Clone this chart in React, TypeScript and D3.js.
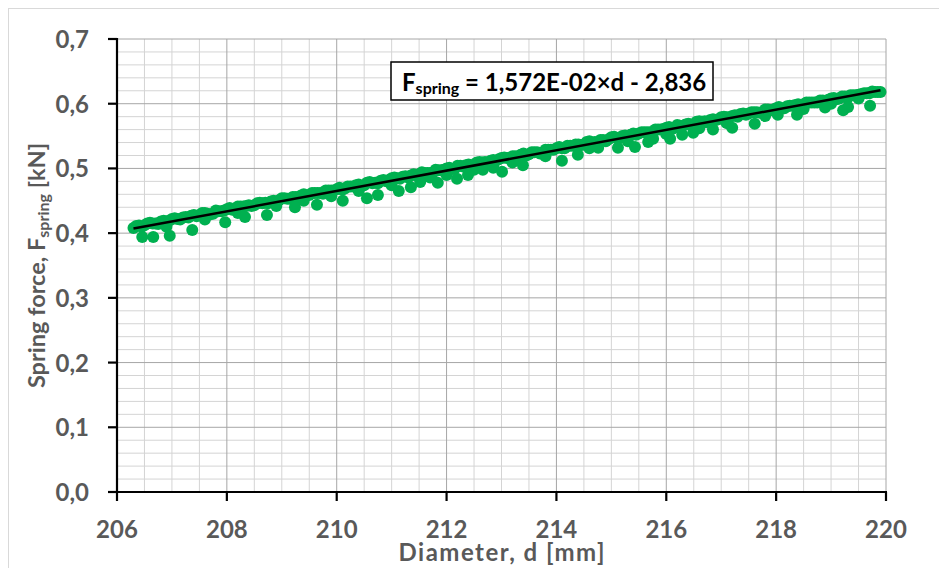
import React from "react";
import * as d3 from "d3";

// Measured data (dense band along the fit)
const bandDiameters = [
  206.3, 206.4, 206.5, 206.6, 206.7, 206.8, 206.9, 207.0, 207.1, 207.2,
  207.3, 207.4, 207.5, 207.6, 207.7, 207.8, 207.9, 208.0, 208.1, 208.2,
  208.3, 208.4, 208.5, 208.6, 208.7, 208.8, 208.9, 209.0, 209.1, 209.2,
  209.3, 209.4, 209.5, 209.6, 209.7, 209.8, 209.9, 210.0, 210.1, 210.2,
  210.3, 210.4, 210.5, 210.6, 210.7, 210.8, 210.9, 211.0, 211.1, 211.2,
  211.3, 211.4, 211.5, 211.6, 211.7, 211.8, 211.9, 212.0, 212.1, 212.2,
  212.3, 212.4, 212.5, 212.6, 212.7, 212.8, 212.9, 213.0, 213.1, 213.2,
  213.3, 213.4, 213.5, 213.6, 213.7, 213.8, 213.9, 214.0, 214.1, 214.2,
  214.3, 214.4, 214.5, 214.6, 214.7, 214.8, 214.9, 215.0, 215.1, 215.2,
  215.3, 215.4, 215.5, 215.6, 215.7, 215.8, 215.9, 216.0, 216.1, 216.2,
  216.3, 216.4, 216.5, 216.6, 216.7, 216.8, 216.9, 217.0, 217.1, 217.2,
  217.3, 217.4, 217.5, 217.6, 217.7, 217.8, 217.9, 218.0, 218.1, 218.2,
  218.3, 218.4, 218.5, 218.6, 218.7, 218.8, 218.9, 219.0, 219.1, 219.2,
  219.3, 219.4, 219.5, 219.6, 219.7, 219.8, 219.9,
];
const bandForces = [
  0.408, 0.412, 0.412, 0.416, 0.415, 0.418, 0.418, 0.422, 0.422, 0.424,
  0.424, 0.428, 0.428, 0.431, 0.429, 0.435, 0.434, 0.437, 0.436, 0.441,
  0.441, 0.443, 0.443, 0.447, 0.447, 0.449, 0.448, 0.454, 0.453, 0.456,
  0.455, 0.46, 0.459, 0.462, 0.462, 0.466, 0.466, 0.468, 0.467, 0.472,
  0.472, 0.475, 0.474, 0.479, 0.478, 0.481, 0.48, 0.485, 0.485, 0.487,
  0.486, 0.491, 0.491, 0.493, 0.493, 0.498, 0.497, 0.5, 0.499, 0.504,
  0.503, 0.506, 0.505, 0.51, 0.51, 0.512, 0.512, 0.516, 0.516, 0.519,
  0.518, 0.523, 0.522, 0.525, 0.523, 0.529, 0.529, 0.531, 0.531, 0.535,
  0.535, 0.537, 0.537, 0.542, 0.541, 0.544, 0.542, 0.548, 0.547, 0.55,
  0.55, 0.554, 0.554, 0.556, 0.556, 0.56, 0.56, 0.563, 0.561, 0.567,
  0.566, 0.569, 0.568, 0.573, 0.573, 0.575, 0.575, 0.579, 0.579, 0.581,
  0.58, 0.585, 0.585, 0.587, 0.586, 0.591, 0.59, 0.593, 0.593, 0.596,
  0.597, 0.599, 0.598, 0.602, 0.602, 0.605, 0.604, 0.608, 0.607, 0.611,
  0.609, 0.613, 0.614, 0.616, 0.616, 0.618, 0.618,
];

// Second pass of the dense band (readings in between)
const band2Diameters = [
  206.35, 206.45, 206.55, 206.65, 206.75, 206.85, 206.95, 207.05, 207.15, 207.25,
  207.35, 207.45, 207.55, 207.65, 207.75, 207.85, 207.95, 208.05, 208.15, 208.25,
  208.35, 208.45, 208.55, 208.65, 208.75, 208.85, 208.95, 209.05, 209.15, 209.25,
  209.35, 209.45, 209.55, 209.65, 209.75, 209.85, 209.95, 210.05, 210.15, 210.25,
  210.35, 210.45, 210.55, 210.65, 210.75, 210.85, 210.95, 211.05, 211.15, 211.25,
  211.35, 211.45, 211.55, 211.65, 211.75, 211.85, 211.95, 212.05, 212.15, 212.25,
  212.35, 212.45, 212.55, 212.65, 212.75, 212.85, 212.95, 213.05, 213.15, 213.25,
  213.35, 213.45, 213.55, 213.65, 213.75, 213.85, 213.95, 214.05, 214.15, 214.25,
  214.35, 214.45, 214.55, 214.65, 214.75, 214.85, 214.95, 215.05, 215.15, 215.25,
  215.35, 215.45, 215.55, 215.65, 215.75, 215.85, 215.95, 216.05, 216.15, 216.25,
  216.35, 216.45, 216.55, 216.65, 216.75, 216.85, 216.95, 217.05, 217.15, 217.25,
  217.35, 217.45, 217.55, 217.65, 217.75, 217.85, 217.95, 218.05, 218.15, 218.25,
  218.35, 218.45, 218.55, 218.65, 218.75, 218.85, 218.95, 219.05, 219.15, 219.25,
  219.35, 219.45, 219.55, 219.65, 219.75, 219.85,
];
const band2Forces = [
  0.411, 0.41, 0.415, 0.415, 0.414, 0.419, 0.419, 0.423, 0.421, 0.425,
  0.427, 0.426, 0.431, 0.43, 0.43, 0.434, 0.435, 0.439, 0.437, 0.441,
  0.442, 0.442, 0.446, 0.446, 0.446, 0.45, 0.451, 0.454, 0.453, 0.456,
  0.458, 0.458, 0.462, 0.462, 0.461, 0.466, 0.466, 0.47, 0.469, 0.472,
  0.474, 0.473, 0.478, 0.477, 0.477, 0.482, 0.482, 0.486, 0.484, 0.488,
  0.489, 0.489, 0.494, 0.493, 0.493, 0.497, 0.498, 0.501, 0.5, 0.504,
  0.505, 0.505, 0.509, 0.509, 0.508, 0.513, 0.514, 0.517, 0.516, 0.519,
  0.521, 0.52, 0.525, 0.525, 0.524, 0.529, 0.529, 0.533, 0.531, 0.535,
  0.537, 0.536, 0.541, 0.54, 0.54, 0.544, 0.545, 0.549, 0.547, 0.551,
  0.552, 0.552, 0.556, 0.556, 0.556, 0.56, 0.561, 0.564, 0.563, 0.566,
  0.568, 0.568, 0.572, 0.572, 0.571, 0.576, 0.576, 0.58, 0.579, 0.582,
  0.584, 0.583, 0.587, 0.587, 0.587, 0.591, 0.591, 0.595, 0.593, 0.597,
  0.598, 0.598, 0.602, 0.602, 0.602, 0.605, 0.606, 0.609, 0.608, 0.611,
  0.613, 0.613, 0.615, 0.616, 0.619, 0.618,
];

// Points slightly under the fit
const lowDiameters = [
  206.9, 207.6, 208.2, 208.9, 209.4, 209.9, 210.4, 211.0, 211.7, 212.0, 212.5,
  213.2, 213.8, 214.6, 215.3, 216.0, 216.6, 217.1, 217.8, 218.5, 219.0, 219.5,
];
const lowForces = [
  0.41, 0.421, 0.431, 0.442, 0.45, 0.457, 0.465, 0.474, 0.486, 0.49, 0.498,
  0.509, 0.519, 0.531, 0.542, 0.553, 0.562, 0.57, 0.581, 0.592, 0.6, 0.608,
];

// Outliers clearly below the fit
const outlierDiameters = [
  206.46, 206.66, 206.96, 207.37, 207.97, 208.33, 208.73, 209.24, 209.64, 210.11,
  210.55, 210.75, 211.13, 211.35, 211.52, 211.84, 212.19, 212.39, 212.66, 212.85,
  213.01, 213.39, 214.1, 214.39, 214.76, 215.12, 215.43, 215.67, 215.76, 216.07,
  216.29, 216.49, 216.85, 217.2, 217.61, 218.03, 218.38, 218.89, 219.22, 219.31,
  219.71,
];
const outlierForces = [
  0.394, 0.394, 0.396, 0.405, 0.417, 0.425, 0.428, 0.44, 0.444, 0.45,
  0.454, 0.459, 0.465, 0.471, 0.479, 0.478, 0.484, 0.49, 0.498, 0.501,
  0.495, 0.505, 0.512, 0.521, 0.532, 0.532, 0.533, 0.541, 0.546, 0.546,
  0.552, 0.555, 0.56, 0.563, 0.569, 0.583, 0.583, 0.594, 0.59, 0.595,
  0.597,
];

// Linear fit shown in the label
const fitSlope = 0.01572;
const fitIntercept = -2.836;
const fitRange = [206.3, 219.9];

const xTicks = [206, 208, 210, 212, 214, 216, 218, 220];
const yTicks = [0, 0.1, 0.2, 0.3, 0.4, 0.5, 0.6, 0.7];

const W = 939;
const H = 568;
const left = 117;
const right = 886;
const top = 39;
const bottom = 492;

const FONT = "Lato, 'Open Sans', sans-serif";
const GREY = "#595959";
const GREEN = "#00B050";

export default function App() {
  const x = d3.scaleLinear().domain([206, 220]).range([left, right]);
  const y = d3.scaleLinear().domain([0, 0.7]).range([bottom, top]);

  const minorX = d3.range(206, 220.001, 0.5).filter((v) => Math.abs(v % 2) > 1e-6);
  const minorY = d3.range(0, 0.7001, 0.02).filter((v) => Math.abs(Math.round(v * 50) % 5) !== 0);

  const fmt = (v: number) => d3.format(".1f")(v).replace(".", ",");

  const points: [number, number][] = [
    ...bandDiameters.map((d, i) => [d, bandForces[i]] as [number, number]),
    ...band2Diameters.map((d, i) => [d, band2Forces[i]] as [number, number]),
    ...lowDiameters.map((d, i) => [d, lowForces[i]] as [number, number]),
    ...outlierDiameters.map((d, i) => [d, outlierForces[i]] as [number, number]),
  ];

  const fitLine = d3
    .line<number>()
    .x((d) => x(d))
    .y((d) => y(fitSlope * d + fitIntercept));

  return (
    <svg
      width={W}
      height={H}
      style={{ position: "absolute", left: 0, top: 0, background: "#fff" }}
      fontFamily={FONT}
    >
      <rect x={8.5} y={8.5} width={W} height={H} fill="#fff" stroke="#d9d9d9" strokeWidth={1} />

      {/* minor grid */}
      {minorX.map((v) => (
        <line key={"mx" + v} x1={x(v)} x2={x(v)} y1={top} y2={bottom} stroke="#d4d4d4" strokeWidth={1} />
      ))}
      {minorY.map((v) => (
        <line key={"my" + v} x1={left} x2={right} y1={y(v)} y2={y(v)} stroke="#d4d4d4" strokeWidth={1} />
      ))}
      {/* major grid */}
      {xTicks.map((v) => (
        <line key={"Mx" + v} x1={x(v)} x2={x(v)} y1={top} y2={bottom} stroke="#a6a6a6" strokeWidth={1} />
      ))}
      {yTicks.map((v) => (
        <line key={"My" + v} x1={left} x2={right} y1={y(v)} y2={y(v)} stroke="#a6a6a6" strokeWidth={1} />
      ))}

      {/* points */}
      {points.map(([d, f], i) => (
        <circle key={"p" + i} cx={x(d)} cy={y(f)} r={6} fill={GREEN} />
      ))}

      {/* fit line */}
      <path d={fitLine(fitRange) || ""} fill="none" stroke="#000" strokeWidth={2.5} />

      {/* axes */}
      <line x1={left} x2={left} y1={top - 1} y2={bottom + 1} stroke="#000" strokeWidth={2.2} />
      <line x1={left - 1} x2={right + 1} y1={bottom} y2={bottom} stroke="#000" strokeWidth={2.2} />
      {yTicks.map((v) => (
        <line key={"yt" + v} x1={left - 9} x2={left} y1={y(v)} y2={y(v)} stroke="#000" strokeWidth={2.2} />
      ))}
      {xTicks.map((v) => (
        <line key={"xt" + v} x1={x(v)} x2={x(v)} y1={bottom} y2={bottom + 9} stroke="#000" strokeWidth={2.2} />
      ))}

      {/* tick labels */}
      {yTicks.map((v) => (
        <text key={"yl" + v} x={89} y={y(v) + 9} textAnchor="end" fontSize={24} fontWeight="bold" fill={GREY}>
          {fmt(v)}
        </text>
      ))}
      {xTicks.map((v) => (
        <text key={"xl" + v} x={x(v)} y={538} textAnchor="middle" fontSize={24} fontWeight="bold" fill={GREY}>
          {v}
        </text>
      ))}

      {/* axis titles */}
      <text
        x={(left + right) / 2}
        y={561}
        textAnchor="middle"
        fontSize={24}
        fontWeight="bold"
        fill={GREY}
        textLength={206}
        lengthAdjust="spacing"
      >
        Diameter, d [mm]
      </text>
      <text
        transform={`translate(45, ${(top + bottom) / 2}) rotate(-90)`}
        textAnchor="middle"
        fontSize={23.5}
        fontWeight="bold"
        fill={GREY}
      >
        Spring force, F
        <tspan fontSize={16} dy={4}>spring</tspan>
        <tspan dy={-4}> [kN]</tspan>
      </text>

      {/* equation box */}
      <rect x={391} y={62} width={322} height={38} fill="#fff" stroke="#000" strokeWidth={1.5} />
      <text x={402} y={91} fontSize={24} fontWeight="bold" fill="#000">
        F
        <tspan fontSize={16} dy={3}>spring</tspan>
        <tspan dy={-3}> = 1,572E-02×d - 2,836</tspan>
      </text>
    </svg>
  );
}
